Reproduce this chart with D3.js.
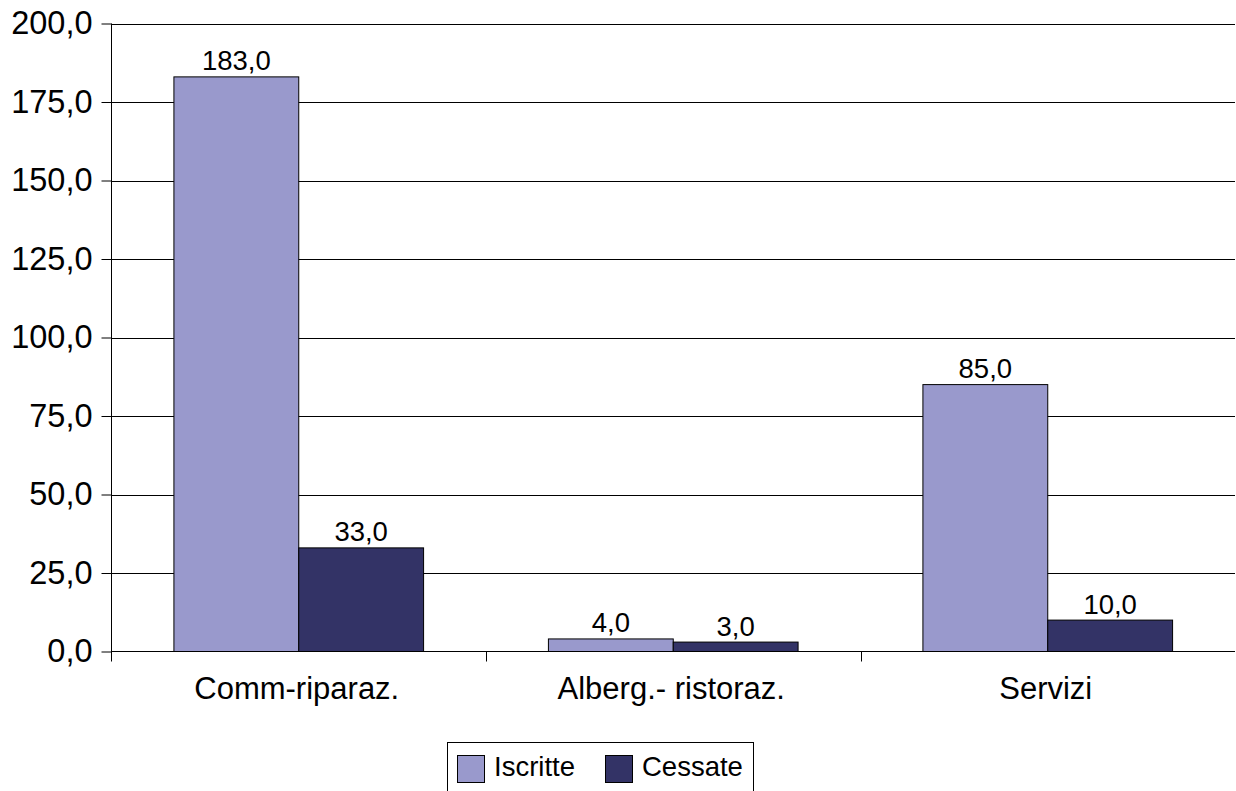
<!DOCTYPE html>
<html>
  <head>
    <meta charset="utf-8" />
    <title>Iscritte / Cessate</title>
    <style>
      body {
        margin: 0;
        background: white;
        font-family: "Liberation Sans", Arial, sans-serif;
      }
    </style>
  </head>
  <body>
    <svg class="canvas"></svg>
    <script src="https://cdn.jsdelivr.net/npm/d3@7"></script>
    <script>
      const categories = ["Comm-riparaz.", "Alberg.- ristoraz.", "Servizi"];
      const series = ["Iscritte", "Cessate"];
      const iscritte = [183, 4, 85];
      const cessate = [33, 3, 10];
      const yTicks = [0, 25, 50, 75, 100, 125, 150, 175, 200];
      const colors = ["#9999cc", "#333366"];

      const width = 1236,
        height = 791;
      const plotLeft = 111.5,
        plotRight = 1235,
        plotTop = 23.5,
        plotBottom = 651.5;

      const fmt = (v) => v.toFixed(1).replace(".", ",");

      const svg = d3.select(".canvas").attr("width", width).attr("height", height);

      const y = d3.scaleLinear().domain([0, 200]).range([plotBottom, plotTop]);
      const x = d3.scaleBand().domain(categories).range([plotLeft, plotRight]).padding(0);
      const xs = d3
        .scaleBand()
        .domain(series)
        .range([0, x.bandwidth()])
        .paddingOuter(0.5)
        .paddingInner(0);

      //----------------grid------------------
      svg
        .append("g")
        .selectAll("line")
        .data(yTicks.filter((d) => d > 0))
        .join("line")
        .attr("x1", plotLeft)
        .attr("x2", plotRight)
        .attr("y1", (d) => Math.round(y(d)) + 0.5)
        .attr("y2", (d) => Math.round(y(d)) + 0.5)
        .attr("stroke", "#000");

      //----------------bars------------------
      const values = [iscritte, cessate];
      series.forEach((s, si) => {
        svg
          .append("g")
          .selectAll("rect")
          .data(categories)
          .join("rect")
          .attr("x", (c) => x(c) + xs(s))
          .attr("width", xs.bandwidth())
          .attr("y", (c, i) => y(values[si][i]))
          .attr("height", (c, i) => plotBottom - y(values[si][i]))
          .attr("fill", colors[si])
          .attr("stroke", "#000")
          .attr("stroke-width", 1);

        svg
          .append("g")
          .selectAll("text")
          .data(categories)
          .join("text")
          .attr("x", (c) => x(c) + xs(s) + xs.bandwidth() / 2)
          .attr("y", (c, i) => y(values[si][i]) - 6.5)
          .attr("text-anchor", "middle")
          .attr("font-size", 27.5)
          .text((c, i) => fmt(values[si][i]));
      });

      //----------------axes------------------
      const yAxis = svg
        .append("g")
        .attr("transform", `translate(${plotLeft},0)`)
        .call(
          d3
            .axisLeft(y)
            .tickValues(yTicks)
            .tickFormat(fmt)
            .tickSize(10)
            .tickPadding(9)
        );
      yAxis.select(".domain").attr("d", `M0,${plotTop}V${plotBottom + 10}`);
      yAxis
        .selectAll("text")
        .attr("font-size", 32.5)
        .attr("font-family", "Liberation Sans, Arial, sans-serif")
        .attr("fill", "#000");

      svg
        .append("line")
        .attr("x1", plotLeft)
        .attr("x2", plotRight)
        .attr("y1", plotBottom)
        .attr("y2", plotBottom)
        .attr("stroke", "#000");

      svg
        .append("g")
        .selectAll("line")
        .data(categories.slice(1))
        .join("line")
        .attr("x1", (c) => Math.round(x(c)) + 0.5)
        .attr("x2", (c) => Math.round(x(c)) + 0.5)
        .attr("y1", plotBottom)
        .attr("y2", plotBottom + 10)
        .attr("stroke", "#000");

      svg
        .append("g")
        .selectAll("text")
        .data(categories)
        .join("text")
        .attr("x", (c) => x(c) + x.bandwidth() / 2 - 2)
        .attr("y", 698.5)
        .attr("text-anchor", "middle")
        .attr("font-size", 31)
        .text((c) => c);

      //----------------legend------------------
      const legend = svg.append("g");
      legend
        .append("rect")
        .attr("x", 447.5)
        .attr("y", 742.5)
        .attr("width", 306)
        .attr("height", 60)
        .attr("fill", "white")
        .attr("stroke", "#000");
      const legendX = [457, 605];
      series.forEach((s, i) => {
        legend
          .append("rect")
          .attr("x", legendX[i] + 0.5)
          .attr("y", 755.5)
          .attr("width", 27)
          .attr("height", 27)
          .attr("fill", colors[i])
          .attr("stroke", "#000");
        legend
          .append("text")
          .attr("x", legendX[i] + 37)
          .attr("y", 775.5)
          .attr("font-size", 27.5)
          .text(s);
      });
    </script>
  </body>
</html>
